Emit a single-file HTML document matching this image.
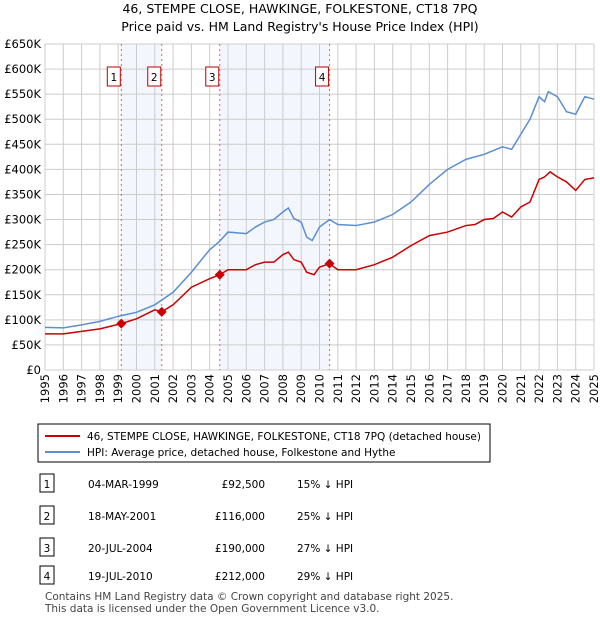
<!DOCTYPE html>
<html><head><meta charset="utf-8"><style>
body{margin:0;background:#fff;font-family:"DejaVu Sans","Liberation Sans",sans-serif;}
svg text{font-family:"DejaVu Sans","Liberation Sans",sans-serif;}
</style></head><body>
<svg id="c" width="600" height="620">
<text x="300" y="13" font-size="12.5" text-anchor="middle">46, STEMPE CLOSE, HAWKINGE, FOLKESTONE, CT18 7PQ</text>
<text x="300" y="31" font-size="12.5" text-anchor="middle">Price paid vs. HM Land Registry's House Price Index (HPI)</text>
<g id="plot"></g>
<g>
<rect x="38" y="424" width="452" height="38" fill="#fff" stroke="#000" stroke-width="1"/>
<line x1="45" y1="436" x2="80" y2="436" stroke="#cc0000" stroke-width="2"/>
<text x="87" y="440" font-size="10.5">46, STEMPE CLOSE, HAWKINGE, FOLKESTONE, CT18 7PQ (detached house)</text>
<line x1="45" y1="452" x2="80" y2="452" stroke="#5b8fd0" stroke-width="2"/>
<text x="87" y="456" font-size="10.5">HPI: Average price, detached house, Folkestone and Hythe</text>
</g>
<g id="tbl" font-size="10.5"></g>
<text x="45" y="600" font-size="10.5" fill="#444">Contains HM Land Registry data © Crown copyright and database right 2025.</text>
<text x="45" y="612" font-size="10.5" fill="#444">This data is licensed under the Open Government Licence v3.0.</text>
</svg>
<script>
const yTicks=[0,50,100,150,200,250,300,350,400,450,500,550,600,650];
const years=[1995,1996,1997,1998,1999,2000,2001,2002,2003,2004,2005,2006,2007,2008,2009,2010,2011,2012,2013,2014,2015,2016,2017,2018,2019,2020,2021,2022,2023,2024,2025];
const hpiT=[1995,1996,1997,1998,1999,2000,2001,2002,2003,2004,2004.5,2005,2006,2006.5,2007,2007.5,2008,2008.3,2008.6,2009,2009.3,2009.6,2010,2010.55,2011,2012,2013,2014,2015,2016,2017,2018,2019,2020,2020.5,2021,2021.5,2022,2022.3,2022.5,2023,2023.5,2024,2024.5,2025];
const hpiV=[85,84,90,97,107,115,130,155,195,240,255,275,272,285,295,300,315,323,302,295,265,258,285,300,290,288,295,310,335,370,400,420,430,445,440,470,500,545,535,555,545,515,510,545,540];
const redT=[1995,1996,1997,1998,1999.17,2000,2001,2001.38,2002,2003,2004,2004.55,2005,2006,2006.5,2007,2007.5,2008,2008.3,2008.6,2009,2009.3,2009.7,2010,2010.55,2011,2012,2013,2014,2015,2016,2017,2018,2018.5,2019,2019.5,2020,2020.5,2021,2021.5,2022,2022.3,2022.6,2023,2023.5,2024,2024.5,2025];
const redV=[72,72,77,82,92.5,102,120,116,130,165,182,190,200,200,210,215,215,230,235,220,215,195,190,205,212,200,200,210,225,248,268,275,288,290,300,302,315,305,325,335,380,385,395,385,375,358,380,383];
const saleT=[1999.17,2001.38,2004.55,2010.55];
const saleV=[92.5,116,190,212];
const saleLbl=["1","2","3","4"];
const saleDate=["04-MAR-1999","18-MAY-2001","20-JUL-2004","19-JUL-2010"];
const salePrice=["£92,500","£116,000","£190,000","£212,000"];
const salePct=["15% ↓ HPI","25% ↓ HPI","27% ↓ HPI","29% ↓ HPI"];
const ns="http://www.w3.org/2000/svg";
const X=t=>45+(t-1995)*(594-45)/30, Y=v=>370-v*(326/650);
function mk(p,tag,a){const e=document.createElementNS(ns,tag);for(const k in a)e.setAttribute(k,a[k]);p.appendChild(e);return e;}
const g=document.getElementById('plot');
// shading
[[0,1],[2,3]].forEach(([a,b])=>{const r=mk(g,'rect',{x:X(saleT[a]),y:44,width:X(saleT[b])-X(saleT[a]),height:326,fill:'#eef3fc',opacity:0.7});

});
yTicks.forEach(v=>{const l=mk(g,'line',{x1:45,x2:594,y1:Y(v),y2:Y(v),stroke:'#ccc'});


const t=mk(g,'text',{x:41,y:Y(v)+4,'font-size':11.5,'text-anchor':'end'});t.textContent=v==0?'£0':'£'+v+'K';

});
years.forEach(y=>{const l=mk(g,'line',{x1:X(y),x2:X(y),y1:44,y2:370,stroke:'#ccc'});


const t=mk(g,'text',{transform:`translate(${X(y)+4},${374}) rotate(-90)`,'font-size':11.5,'text-anchor':'end'});t.textContent=y;

});
saleT.forEach((t,i)=>{const l=mk(g,'line',{x1:X(t),x2:X(t),y1:44,y2:370,stroke:'#e06060','stroke-dasharray':'2,3'});


const b=mk(g,'rect',{x:X(t)-14,y:67,width:13,height:19,fill:'#fff',stroke:'#b00'});


const tx=mk(g,'text',{x:X(t)-7.5,y:81,'font-size':10.5,'text-anchor':'middle'});tx.textContent=saleLbl[i];

});
const line=(T,V,c,n)=>{const p=mk(g,'path',{d:T.map((t,i)=>(i?'L':'M')+X(t)+','+Y(V[i])).join(''),fill:'none',stroke:c,'stroke-width':1.5});

};
line(hpiT,hpiV,'#5b8fd0','hpi-line');
line(redT,redV,'#cc0000','property-price-line');
saleT.forEach((t,i)=>{const d=mk(g,'path',{d:`M${X(t)},${Y(saleV[i])-5}l5,5l-5,5l-5,-5z`,fill:'#cc0000'});

});
const tb=document.getElementById('tbl');
const rowY=[484,516,548,576];
saleT.forEach((t,i)=>{const y=rowY[i];
const b=mk(tb,'rect',{x:40,y:y-10,width:14,height:18,fill:'#fff',stroke:'#000'});


const cells=[[47,saleLbl[i],'middle'],[88,saleDate[i],'start'],[265,salePrice[i],'end'],[297,salePct[i],'start']];
cells.forEach(c=>{const e=mk(tb,'text',{x:c[0],y:y+4,'text-anchor':c[2]});e.textContent=c[1];

});});
</script>
</body></html>
